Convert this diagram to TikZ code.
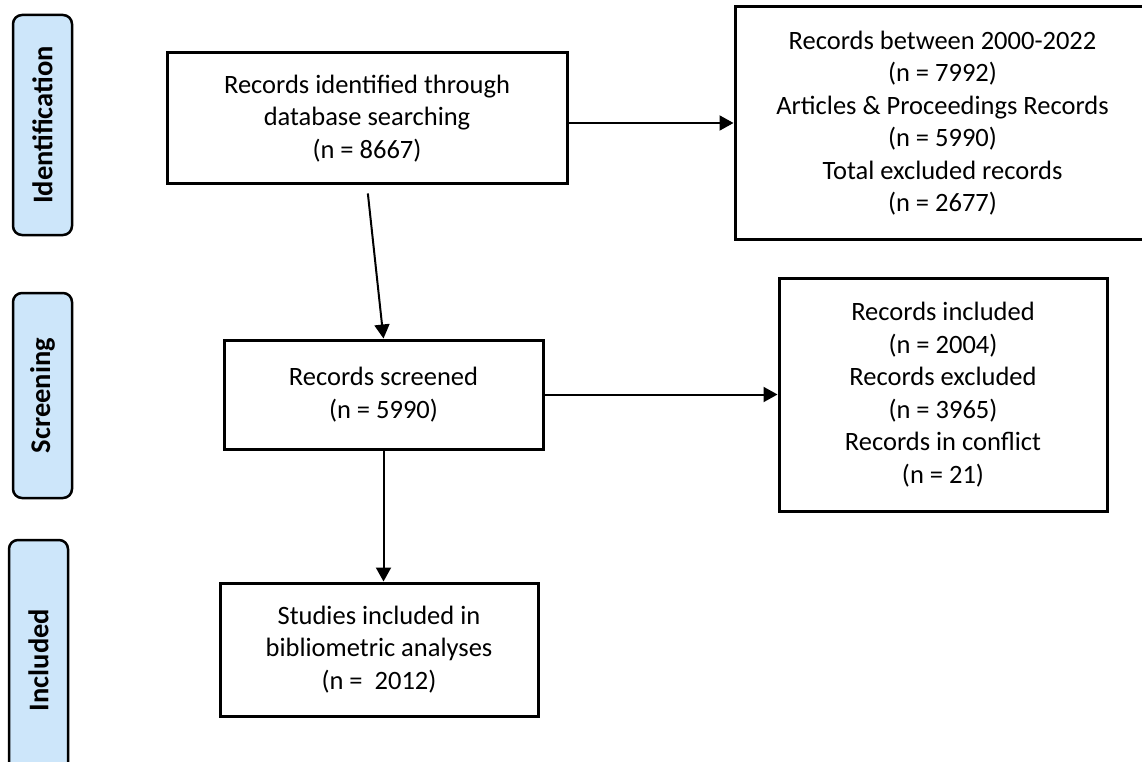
\documentclass[tikz,border=0pt]{standalone}
\usepackage{fontspec}
\setmainfont{Carlito}
\usetikzlibrary{arrows.meta}
\definecolor{phaseblue}{RGB}{205,230,250}

\begin{document}
\begin{tikzpicture}[x=1pt,y=-1pt,
 phase/.style={draw,line width=2.5pt,rounded corners=9pt,fill=phaseblue,rotate=90,minimum height=59pt,inner sep=0pt,font=\fontsize{28.5}{30}\selectfont\bfseries},
 rec/.style={draw,line width=3pt,align=center,inner sep=0pt,font=\fontsize{26.5}{32.5}\selectfont},
 flow/.style={line width=2pt,-{Triangle[length=14pt,width=15pt]}}]
 \useasboundingbox (0,0) rectangle (1142,762);
 \clip (0,0) rectangle (1142,762);
 \fill[white](0,0) rectangle (1142,762);
 % phase labels
 \node[phase,minimum width=220pt](idlab) at (42.5,125) {Identification};
 \node[phase,minimum width=205pt](sclab) at (42.5,395.5) {Screening};
 \node[phase,minimum width=240pt](inlab) at (38.5,660) {Included};
 % records
 \node[rec,minimum width=400pt,minimum height=131pt](ident) at (367,118.5) {Records identified through\\database searching\\(n = 8667)};
 \node[rec,minimum width=415pt,minimum height=232pt](limits) at (942.5,123) {Records between 2000-2022\\(n = 7992)\\Articles \& Proceedings Records\\(n = 5990)\\Total excluded records\\(n = 2677)};
 \node[rec,minimum width=319pt,minimum height=109pt](screen) at (383.5,394.5) {Records screened\\(n = 5990)};
 \node[rec,minimum width=328pt,minimum height=233pt](scrres) at (943,394.5) {Records included\\(n = 2004)\\Records excluded\\(n = 3965)\\Records in conflict\\(n = 21)};
 \node[rec,minimum width=318pt,minimum height=133pt](study) at (379,649.5) {Studies included in\\bibliometric analyses\\(n =\ \ 2012)};
 % arrows
 \draw[flow](ident.east |- limits.west) -- (limits.west);
 \draw[flow,shorten <=8pt](ident.south) -- (screen.north);
 \draw[flow](screen.east) -- (scrres.west);
 \draw[flow](screen.south) -- (screen.south |- study.north);
\end{tikzpicture}
\end{document}
